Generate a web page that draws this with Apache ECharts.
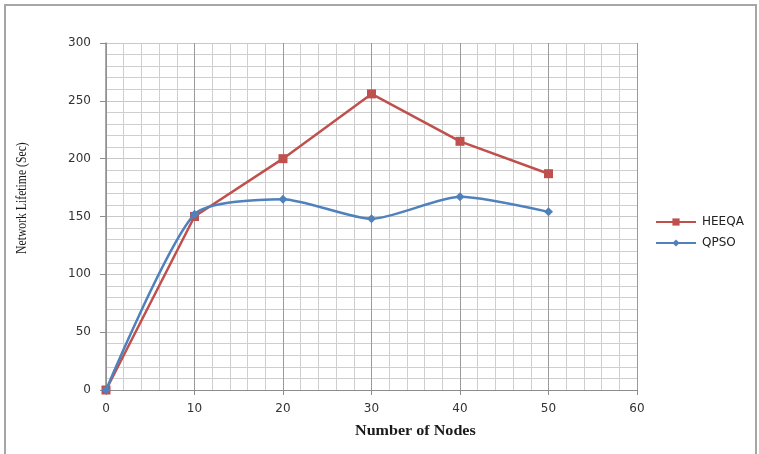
<!DOCTYPE html>
<html><head><meta charset="utf-8">
<script src="https://cdn.jsdelivr.net/npm/echarts@6/dist/echarts.min.js"></script>
<style>html,body{margin:0;padding:0;background:#fff}#c{width:759px;height:454px}</style>
</head><body><div id="c"></div>
<script>
const nodes = [0, 10, 20, 30, 40, 50];
const heeqa = [0, 150, 200, 256, 215, 187];
const qpso = [0, 152, 165, 148, 167, 154];
const seriesNames = ['HEEQA', 'QPSO'];
const xTitle = 'Number of Nodes';
const yTitle = 'Network Lifetime (Sec)';

const chart = echarts.init(document.getElementById('c'), null, {renderer: 'canvas'});
chart.setOption({
  animation: false,
  backgroundColor: '#fff',
  grid: {left: 106, right: 122, top: 43, bottom: 64},
  graphic: [
    {type: 'rect', shape: {x: 5, y: 5, width: 751, height: 470}, style: {fill: 'none', stroke: '#a6a6a6', lineWidth: 2}, z: -1},
    {type: 'text', x: 355, y: 424, scaleX: 1.15, style: {text: xTitle, font: 'bold 14px "Liberation Serif"', fill: '#1a1a1a'}},
    {type: 'text', rotation: Math.PI / 2, x: 15, y: 254, scaleX: 0.78, style: {text: yTitle, font: '15px "Liberation Serif"', fill: '#1a1a1a'}}
  ],
  legend: {
    orient: 'vertical', left: 650, top: 211, itemWidth: 40, itemHeight: 9, itemGap: 9,
    textStyle: {fontFamily: 'DejaVu Sans', fontSize: 12, color: '#222', padding: [0, 0, 0, 1]},
    data: seriesNames
  },
  xAxis: {
    type: 'value', min: 0, max: 60, interval: 10,
    axisLine: {show: true, lineStyle: {color: '#8c8c8c', width: 1}},
    axisTick: {show: true, length: 5, inside: false, lineStyle: {color: '#8c8c8c'}},
    axisLabel: {fontFamily: 'DejaVu Sans', fontSize: 12, color: '#333', margin: 13},
    splitLine: {show: true, lineStyle: {color: '#9a9a9a', width: 1}},
    minorTick: {show: true, splitNumber: 5, length: 0},
    minorSplitLine: {show: true, lineStyle: {color: '#cfcfcf', width: 1}}
  },
  yAxis: {
    type: 'value', min: 0, max: 300, interval: 50,
    axisLine: {show: true, lineStyle: {color: '#8c8c8c', width: 1.5}},
    axisTick: {show: true, length: 6, lineStyle: {color: '#8c8c8c'}},
    axisLabel: {fontFamily: 'DejaVu Sans', fontSize: 12, color: '#333', margin: 15},
    splitLine: {show: true, lineStyle: {color: '#c8c8c8', width: 1}},
    minorTick: {show: true, splitNumber: 5, length: 0},
    minorSplitLine: {show: true, lineStyle: {color: '#cfcfcf', width: 1}}
  },
  series: [
    {
      name: seriesNames[0], type: 'line', data: nodes.map((x, i) => [x, heeqa[i]]),
      symbol: 'rect', symbolSize: 9, color: '#C0504D',
      lineStyle: {width: 2.5, color: '#C0504D'}, itemStyle: {color: '#C0504D'}, z: 3
    },
    {
      name: seriesNames[1], type: 'line', data: nodes.map((x, i) => [x, qpso[i]]),
      symbol: 'diamond', symbolSize: 9, smooth: 0.22, color: '#4F81BD',
      lineStyle: {width: 2.5, color: '#4F81BD'}, itemStyle: {color: '#4F81BD'}, z: 4
    }
  ]
});
</script></body></html>
